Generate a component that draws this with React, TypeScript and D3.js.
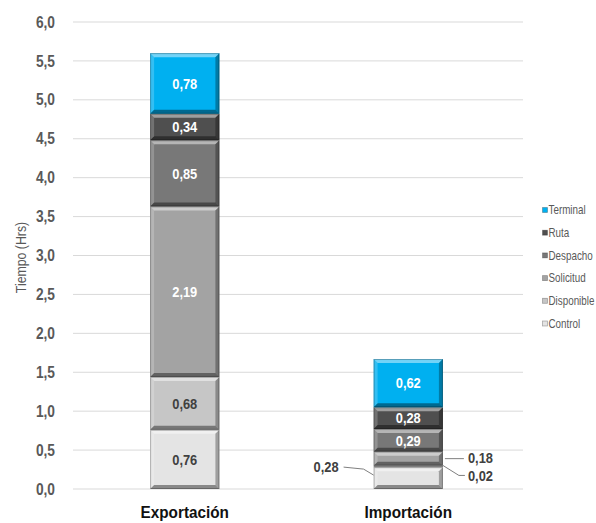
import React, { useEffect, useRef } from 'react';
import * as d3 from 'd3';

const categories = ['Exportación', 'Importación'];
const seriesNames = ['Control', 'Disponible', 'Solicitud', 'Despacho', 'Ruta', 'Terminal'];
const exportacion = [0.76, 0.68, 2.19, 0.85, 0.34, 0.78];
const importacion = [0.28, 0.02, 0.18, 0.29, 0.28, 0.62];
const yTicks = [0, 0.5, 1, 1.5, 2, 2.5, 3, 3.5, 4, 4.5, 5, 5.5, 6];
// labels drawn outside the bar (Importación) with leader lines
const outsideLabels = ['Control', 'Disponible', 'Solicitud'];

const colors: Record<string, string> = {
  Control: '#e4e4e4',
  Disponible: '#c6c6c6',
  Solicitud: '#a3a3a3',
  Despacho: '#787878',
  Ruta: '#4f4f4f',
  Terminal: '#00b0f0',
};
const darkText = ['Control', 'Disponible'];
const fmt = (v: number) => v.toFixed(2).replace('.', ',');
const font = "'Liberation Sans', Arial, sans-serif";

export default function App() {
  const svgRef = useRef<SVGSVGElement | null>(null);
  const W = 596;
  const H = 523;
  const margin = { top: 22, left: 73, right: 76, bottom: 34 };

  useEffect(() => {
    const svg = d3.select(svgRef.current);
    svg.selectAll('*').remove();
    svg.attr('font-family', font);

    // narrow-looking text: squeeze horizontally around the anchor point
    const squeeze = (sx: number) => (x: number, yy: number) => `translate(${x},${yy}) scale(${sx},1)`;
    const sq = squeeze(0.86);

    const y = d3.scaleLinear().domain([0, 6]).range([H - margin.bottom, margin.top]);
    const x = d3
      .scaleBand()
      .domain(categories)
      .range([margin.left, W - margin.right])
      .paddingInner(0.69)
      .paddingOuter(0.345);

    // grid
    svg
      .append('g')
      .selectAll('line')
      .data(yTicks)
      .join('line')
      .attr('x1', margin.left)
      .attr('x2', W - margin.right + 3)
      .attr('y1', (d) => y(d))
      .attr('y2', (d) => y(d))
      .attr('stroke', '#d9d9d9')
      .attr('stroke-width', 1);

    // y tick labels
    svg
      .append('g')
      .selectAll('text')
      .data(yTicks)
      .join('text')
      .attr('transform', (d) => sq(55, y(d)))
      .attr('dy', '0.35em')
      .attr('text-anchor', 'end')
      .attr('font-size', 16)
      .attr('font-weight', 'bold')
      .attr('fill', '#595959')
      .text((d) => d.toFixed(1).replace('.', ','));

    svg
      .append('text')
      .attr('transform', `translate(21, ${y(3) + 2}) rotate(-90) scale(0.88,1)`)
      .attr('dy', '0.35em')
      .attr('text-anchor', 'middle')
      .attr('font-size', 14)
      .attr('fill', '#595959')
      .text('Tiempo (Hrs)');

    // category labels
    svg
      .append('g')
      .selectAll('text')
      .data(categories)
      .join('text')
      .attr('transform', (d) => `translate(${x(d)! + x.bandwidth() / 2},518) scale(0.9,1)`)
      .attr('text-anchor', 'middle')
      .attr('font-size', 17)
      .attr('font-weight', 'bold')
      .attr('fill', '#111')
      .text((d) => d);

    const values = [exportacion, importacion];
    const bars = svg.append('g');
    const labels = svg.append('g');

    categories.forEach((cat, ci) => {
      let acc = 0;
      const x0 = x(cat)!;
      const bw = x.bandwidth();
      seriesNames.forEach((s, si) => {
        const v = values[ci][si];
        const yTop = y(acc + v);
        const yBot = y(acc);
        acc += v;
        const h = yBot - yTop;
        const g = bars.append('g');
        g.append('rect')
          .attr('x', x0)
          .attr('y', yTop)
          .attr('width', bw)
          .attr('height', h)
          .attr('fill', colors[s]);
        const b = Math.min(4, h / 2);
        const x1 = x0 + bw;
        // bevels
        g.append('polygon')
          .attr('points', `${x0},${yTop} ${x1},${yTop} ${x1 - b},${yTop + b} ${x0 + b},${yTop + b}`)
          .attr('fill', '#fff')
          .attr('opacity', 0.45);
        g.append('polygon')
          .attr('points', `${x0},${yTop} ${x0 + b},${yTop + b} ${x0 + b},${yBot - b} ${x0},${yBot}`)
          .attr('fill', '#fff')
          .attr('opacity', 0.2);
        g.append('polygon')
          .attr('points', `${x1},${yTop} ${x1},${yBot} ${x1 - b},${yBot - b} ${x1 - b},${yTop + b}`)
          .attr('fill', '#000')
          .attr('opacity', 0.3);
        g.append('polygon')
          .attr('points', `${x0},${yBot} ${x1},${yBot} ${x1 - b},${yBot - b} ${x0 + b},${yBot - b}`)
          .attr('fill', '#000')
          .attr('opacity', 0.4);
        g.append('rect')
          .attr('x', x0 + 0.5)
          .attr('y', yTop + 0.5)
          .attr('width', bw - 1)
          .attr('height', Math.max(0, h - 1))
          .attr('fill', 'none')
          .attr('stroke', '#000')
          .attr('stroke-opacity', 0.25)
          .attr('stroke-width', 1);

        const yMid = (yTop + yBot) / 2;
        if (ci === 1 && outsideLabels.includes(s)) {
          const lbl = labels.append('g').attr('font-size', 15).attr('font-weight', 'bold').attr('fill', '#404040');
          if (s === 'Control') {
            lbl.append('path')
              .attr('d', `M${x0 - 30},${yMid - 11} L${x0 - 10},${yMid - 9} L${x0},${yMid - 3}`)
              .attr('fill', 'none')
              .attr('stroke', '#7f7f7f');
            lbl.append('text')
              .attr('transform', sq(x0 - 35, yMid - 11))
              .attr('dy', '0.35em')
              .attr('text-anchor', 'end')
              .text(fmt(v));
          } else if (s === 'Disponible') {
            lbl.append('path')
              .attr('d', `M${x1},${yMid - 1} L${x1 + 16},${yMid + 9} L${x1 + 22},${yMid + 9}`)
              .attr('fill', 'none')
              .attr('stroke', '#7f7f7f');
            lbl.append('text')
              .attr('transform', sq(x1 + 25, yMid + 9))
              .attr('dy', '0.35em')
              .text(fmt(v));
          } else {
            lbl.append('path')
              .attr('d', `M${x1 + 2},${yMid} L${x1 + 21},${yMid}`)
              .attr('fill', 'none')
              .attr('stroke', '#7f7f7f');
            lbl.append('text')
              .attr('transform', sq(x1 + 25, yMid - 1))
              .attr('dy', '0.35em')
              .text(fmt(v));
          }
        } else {
          labels
            .append('text')
            .attr('transform', sq(x0 + bw / 2, yMid))
            .attr('dy', '0.35em')
            .attr('text-anchor', 'middle')
            .attr('font-size', 15)
            .attr('font-weight', 'bold')
            .attr('fill', darkText.includes(s) ? '#404040' : '#fff')
            .text(fmt(v));
        }
      });
    });

    // legend
    const legend = svg.append('g');
    const legendItems = [...seriesNames].reverse();
    legendItems.forEach((s, i) => {
      const ly = 210 + i * 22.7;
      legend
        .append('rect')
        .attr('x', 542.5)
        .attr('y', ly - 2.5)
        .attr('width', 5)
        .attr('height', 5)
        .attr('fill', colors[s])
        .attr('stroke', '#000')
        .attr('stroke-opacity', 0.3)
        .attr('stroke-width', 0.8);
      legend
        .append('text')
        .attr('transform', `translate(548.5,${ly}) scale(0.82,1)`)
        .attr('dy', '0.35em')
        .attr('font-size', 12)
        .attr('fill', '#595959')
        .text(s);
    });
  }, []);

  return (
    <svg
      ref={svgRef}
      width={W}
      height={H}
      style={{ position: 'absolute', left: 0, top: 0, background: '#fff' }}
    ></svg>
  );
}
